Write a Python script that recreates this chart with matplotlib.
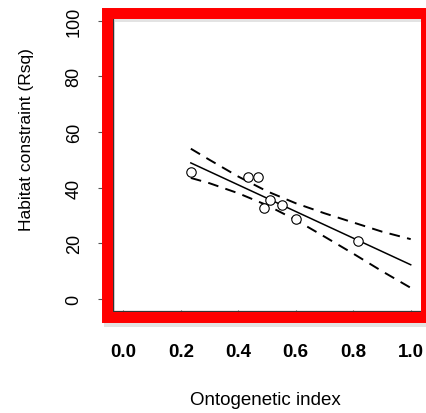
#Habitat constraint vs ontogenetic index, with fitted line and confidence band
import matplotlib
matplotlib.use('Agg')
import matplotlib.pyplot as plt
from matplotlib.patches import Rectangle
from matplotlib.lines import Line2D

plt.rcParams['font.family'] = ['Liberation Sans', 'DejaVu Sans']

# Points
onto_index = [0.235, 0.435, 0.470, 0.491, 0.510, 0.551, 0.601, 0.816]
habitat_rsq = [45.7, 43.7, 43.7, 32.7, 35.6, 33.8, 28.7, 20.9]

# Fitted line (solid)
fit_x = [0.235, 1.0]
fit_y = [48.9, 12.3]

# Confidence band (dashed)
band_x = [0.235, 0.3, 0.4, 0.5, 0.6, 0.7, 0.8, 0.9, 1.0]
band_upper = [54.0, 50.0, 44.0, 38.7, 34.4, 30.8, 27.5, 24.2, 21.5]
band_lower = [43.5, 41.6, 38.0, 33.7, 28.4, 22.4, 16.3, 10.0, 4.0]

x_ticks = [0.0, 0.2, 0.4, 0.6, 0.8, 1.0]
y_ticks = [0, 20, 40, 60, 80, 100]

W, H = 426, 414
fig = plt.figure(figsize=(W / 100, H / 100), dpi=100)

def fx(px):
    return px / W

def fy(py):
    return 1 - py / H

# axes placed so data 0..1 / 0..100 land where the reference has them
ax = fig.add_axes([fx(111.8), fy(311.1), (422.2 - 111.8) / W, (311.1 - 10.6) / H])
ax.set_xlim(-0.04, 1.04)
ax.set_ylim(-4, 104)

ax.plot(band_x, band_upper, color='black', lw=1.4, ls=(0, (5.5, 3.8)))
ax.plot(band_x, band_lower, color='black', lw=1.4, ls=(0, (5.5, 3.8)))
ax.plot(fit_x, fit_y, color='black', lw=1.1)
ax.plot(onto_index, habitat_rsq, 'o', mfc='white', mec='black', ms=6.8, mew=0.8)

for s in ax.spines.values():
    s.set_visible(False)

ax.set_xticks(x_ticks)
ax.set_xticklabels([f'{v:.1f}' for v in x_ticks], fontweight='bold', fontsize=13.5)
ax.set_yticks(y_ticks)
ax.set_yticklabels([str(v) for v in y_ticks], fontsize=13, rotation=90, va='center', ha='right')
ax.tick_params(axis='x', length=10, width=0.8, color='#555555', pad=14)
ax.tick_params(axis='y', length=10, width=0.8, color='#555555', pad=11)

# soft shadow under the red box
shadow = Rectangle((fx(108.5), fy(321.5)), (427 - 108.5) / W, (321.5 - 17) / H,
                   transform=fig.transFigure, fill=False, ec='#e3e3e3', lw=7.9, zorder=3)
fig.add_artist(shadow)

# thin dark edge inside the box (left and bottom)
fig.add_artist(Line2D([fx(112.6), fx(112.6), fx(420)], [fy(19), fy(311.6), fy(311.6)],
                      transform=fig.transFigure, color='#333333', lw=0.9, zorder=4))

# thick red box
box = Rectangle((fx(106.7), fy(317.5)), (425.5 - 106.7) / W, (317.5 - 13.6) / H,
                transform=fig.transFigure, fill=False, ec='#ff0000', lw=7.9,
                joinstyle='miter', zorder=5)
fig.add_artist(box)

fig.text(fx(27), fy(140), 'Habitat constraint (Rsq)', rotation=90, fontsize=12.5,
         ha='center', va='center')
fig.text(fx(265), fy(401), 'Ontogenetic index', fontsize=13.5, ha='center', va='center')

fig.savefig('out.png', dpi=100)
